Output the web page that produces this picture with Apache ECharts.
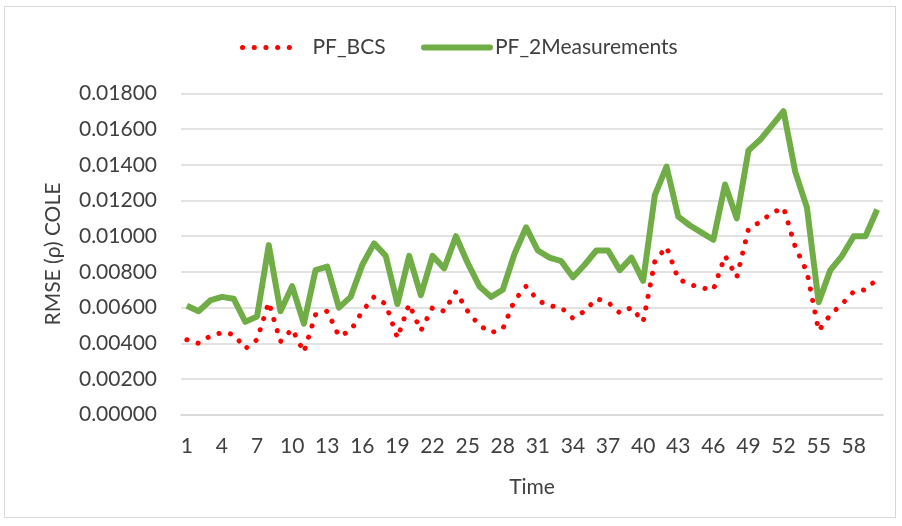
<!DOCTYPE html>
<html>
<head>
<meta charset="utf-8">
<script src="https://cdn.jsdelivr.net/npm/echarts@6/dist/echarts.min.js"></script>
<style>
  html, body { margin: 0; padding: 0; background: #ffffff; }
  #frame { position: absolute; left: 4px; top: 6px; width: 892px; height: 512px; border: 1px solid #d9d9d9; box-sizing: border-box; }
  #chart { position: absolute; left: 0; top: 0; width: 902px; height: 526px; }
</style>
</head>
<body>
<div id="frame"></div>
<div id="chart"></div>
<script>
// Time steps 1..60
const timeSteps = [
  1, 2, 3, 4, 5, 6, 7, 8, 9, 10, 11, 12, 13, 14, 15, 16, 17, 18, 19, 20,
  21, 22, 23, 24, 25, 26, 27, 28, 29, 30, 31, 32, 33, 34, 35, 36, 37, 38, 39, 40,
  41, 42, 43, 44, 45, 46, 47, 48, 49, 50, 51, 52, 53, 54, 55, 56, 57, 58, 59, 60
];

// RMSE of the Cole parameter, BCS particle filter
const pfBCS = [
  0.0042, 0.0040, 0.0044, 0.0046, 0.0045, 0.0037, 0.0042, 0.0063, 0.0041, 0.0048,
  0.0035, 0.0056, 0.0058, 0.0044, 0.0047, 0.0058, 0.0066, 0.0062, 0.0043, 0.0062,
  0.0047, 0.0060, 0.0058, 0.0069, 0.0058, 0.0050, 0.0046, 0.0048, 0.0064, 0.0072,
  0.0064, 0.0061, 0.0060, 0.0054, 0.0058, 0.0065, 0.0063, 0.0057, 0.0060, 0.0052,
  0.0086, 0.0094, 0.0076, 0.0073, 0.0071, 0.0070, 0.0089, 0.0077, 0.0104, 0.0108,
  0.0113, 0.0116, 0.0094, 0.0080, 0.0047, 0.0056, 0.0062, 0.0069, 0.0070, 0.0076
];

// RMSE of the Cole parameter, particle filter with two measurements
const pf2Measurements = [
  0.0061, 0.0058, 0.0064, 0.0066, 0.0065, 0.0052, 0.0055, 0.0095, 0.0058, 0.0072,
  0.0051, 0.0081, 0.0083, 0.0060, 0.0066, 0.0084, 0.0096, 0.0089, 0.0062, 0.0089,
  0.0067, 0.0089, 0.0082, 0.0100, 0.0085, 0.0072, 0.0066, 0.0070, 0.0090, 0.0105,
  0.0092, 0.0088, 0.0086, 0.0077, 0.0084, 0.0092, 0.0092, 0.0081, 0.0088, 0.0075,
  0.0123, 0.0139, 0.0111, 0.0106, 0.0102, 0.0098, 0.0129, 0.0110, 0.0148, 0.0154,
  0.0162, 0.0170, 0.0136, 0.0116, 0.0063, 0.0081, 0.0089, 0.0100, 0.0100, 0.0115
];

const seriesNames = ['PF_BCS', 'PF_2Measurements'];
const yTicks = { min: 0, max: 0.018, step: 0.002 };

const FONT = 'Lato, "Noto Sans", sans-serif';
const FONT_SIZE = 21;
const TEXT = '#404040';
const GRID = '#d9d9d9';
const RED = '#ff0000';
const GREEN = '#70ad47';

const redLine = { color: RED, width: 5, type: [0.1, 11.6], cap: 'round', join: 'round' };
const greenLine = { color: GREEN, width: 6, join: 'round' };

const chart = echarts.init(document.getElementById('chart'), null, { renderer: 'canvas' });

chart.setOption({
  animation: false,
  backgroundColor: 'transparent',
  textStyle: { fontFamily: FONT },
  legend: [
    {
      data: [seriesNames[0]],
      left: 240, top: 37, padding: 0,
      itemWidth: 56, itemHeight: 14,
      itemStyle: { opacity: 0, borderWidth: 0 },
      lineStyle: { width: 5, type: [0.1, 11.6], cap: 'round' },
      textStyle: { fontFamily: FONT, fontSize: FONT_SIZE, color: TEXT, padding: [0, 0, 0, 9] }
    },
    {
      data: [seriesNames[1]],
      left: 421, top: 37, padding: 0,
      itemWidth: 66, itemHeight: 14,
      itemStyle: { opacity: 0, borderWidth: 0 },
      lineStyle: { width: 6, cap: 'round' },
      textStyle: { fontFamily: FONT, fontSize: FONT_SIZE, color: TEXT }
    }
  ],
  grid: { left: 181, right: 19, top: 93.4, bottom: 111.3, containLabel: false },
  xAxis: {
    type: 'category',
    data: timeSteps,
    boundaryGap: true,
    name: 'Time',
    nameLocation: 'middle',
    nameGap: 62,
    nameTextStyle: { fontFamily: FONT, fontSize: FONT_SIZE, color: TEXT },
    axisLine: { show: true, lineStyle: { color: GRID, width: 1.5 } },
    axisTick: { show: false },
    axisLabel: { interval: 2, margin: 21, fontFamily: FONT, fontSize: FONT_SIZE, color: TEXT },
    splitLine: { show: false }
  },
  yAxis: {
    type: 'value',
    min: yTicks.min,
    max: yTicks.max,
    interval: yTicks.step,
    name: 'RMSE (\u03c1) COLE',
    nameLocation: 'middle',
    nameGap: 117,
    nameTextStyle: { fontFamily: FONT, fontSize: FONT_SIZE, color: TEXT },
    axisLine: { show: false },
    axisTick: { show: false },
    axisLabel: {
      margin: 24, fontFamily: FONT, fontSize: FONT_SIZE, color: TEXT,
      formatter: v => v.toFixed(5)
    },
    splitLine: { show: true, lineStyle: { color: GRID, width: 1.5 } }
  },
  series: [
    {
      name: seriesNames[0],
      type: 'line',
      data: pfBCS,
      symbol: 'none',
      showSymbol: false,
      lineStyle: redLine,
      itemStyle: { color: RED },
      z: 2
    },
    {
      name: seriesNames[1],
      type: 'line',
      data: pf2Measurements,
      symbol: 'none',
      showSymbol: false,
      lineStyle: greenLine,
      itemStyle: { color: GREEN },
      z: 3
    }
  ]
});
</script>
</body>
</html>
